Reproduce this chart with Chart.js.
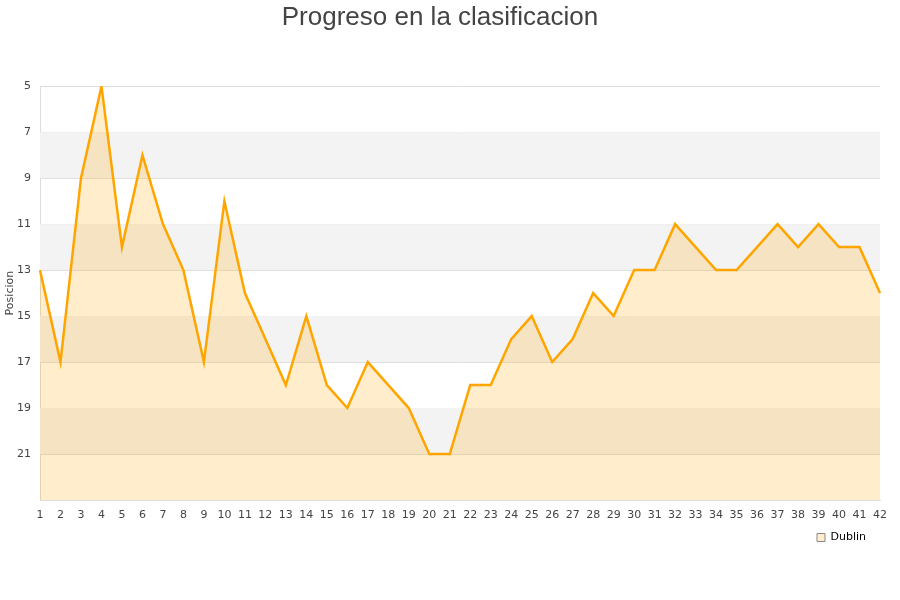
<!DOCTYPE html>
<html>
<head>
<meta charset="utf-8">
<script src="https://cdn.jsdelivr.net/npm/chart.js@4"></script>
<style>
html,body{margin:0;padding:0;background:#fff;}
#wrap{width:900px;height:600px;}
</style>
</head>
<body>
<div id="wrap"><canvas id="c" width="900" height="600"></canvas></div>
<script>
const jornadas = ["1","2","3","4","5","6","7","8","9","10","11","12","13","14","15","16","17","18","19","20","21","22","23","24","25","26","27","28","29","30","31","32","33","34","35","36","37","38","39","40","41","42"];
const dublin = [13,17,9,5,12,8,11,13,17,10,14,16,18,15,18,19,17,18,19,21,21,18,18,16,15,17,16,14,15,13,13,11,12,13,13,12,11,12,11,12,12,14];
const seriesName = "Dublin";
const chartTitle = "Progreso en la clasificacion";
const yTitle = "Posicion";

const bands = {
  id: 'bands',
  afterLayout(chart) {
    if (chart.legend) { chart.legend.right -= 4; }
  },
  beforeDatasetsDraw(chart) {
    const {ctx, chartArea, scales: {y}} = chart;
    ctx.save();
    ctx.fillStyle = '#f3f3f3';
    for (let v = 7; v < 23; v += 4) {
      const y1 = y.getPixelForValue(v), y2 = y.getPixelForValue(v + 2);
      ctx.fillRect(chartArea.left, Math.min(y1, y2), chartArea.right - chartArea.left, Math.abs(y2 - y1));
    }
    ctx.restore();
  }
};

new Chart(document.getElementById('c'), {
  type: 'line',
  data: {
    labels: jornadas,
    datasets: [{
      label: seriesName,
      data: dublin,
      borderColor: '#FFA500',
      backgroundColor: 'rgba(255,165,0,0.2)',
      borderWidth: 2.5,
      fill: 'start',
      pointRadius: 0,
      tension: 0
    }]
  },
  options: {
    responsive: false,
    animation: false,
    layout: {padding: {left: 0, right: 20, top: 0, bottom: 47}},
    plugins: {
      title: {
        display: true,
        text: chartTitle,
        color: '#444',
        font: {family: 'Liberation Sans, Arial, sans-serif', size: 26, weight: 'normal'},
        padding: {top: 2, bottom: 53}
      },
      legend: {
        position: 'bottom',
        align: 'end',
        labels: {
          color: '#000',
          boxWidth: 8,
          boxHeight: 8,
          padding: 10,
          font: {family: 'DejaVu Sans, sans-serif', size: 11},
          generateLabels(chart) {
            return [{text: seriesName, fillStyle: 'rgba(255,165,0,0.2)', strokeStyle: '#888', lineWidth: 1, datasetIndex: 0, fontColor: '#000'}];
          }
        }
      },
      tooltip: {enabled: false}
    },
    scales: {
      x: {
        grid: {display: false, drawTicks: false},
        border: {color: '#ddd'},
        ticks: {color: '#444', font: {family: 'DejaVu Sans, sans-serif', size: 11}, maxRotation: 0, autoSkip: false, padding: 9},
        afterFit(s) { s.height = 22; }
      },
      y: {
        reverse: true,
        min: 5,
        max: 23,
        grid: {color: '#ddd', drawTicks: false},
        border: {color: '#ddd'},
        ticks: {
          stepSize: 2,
          color: '#444',
          font: {family: 'DejaVu Sans, sans-serif', size: 11},
          padding: 9,
          callback(v) { return v === 23 ? '' : v; }
        },
        title: {display: true, text: yTitle, color: '#444', font: {family: 'DejaVu Sans, sans-serif', size: 11}, padding: {top: 4, bottom: 0}},
        afterFit(s) { s.width = 40; }
      }
    }
  },
  plugins: [bands]
});
</script>
</body>
</html>
